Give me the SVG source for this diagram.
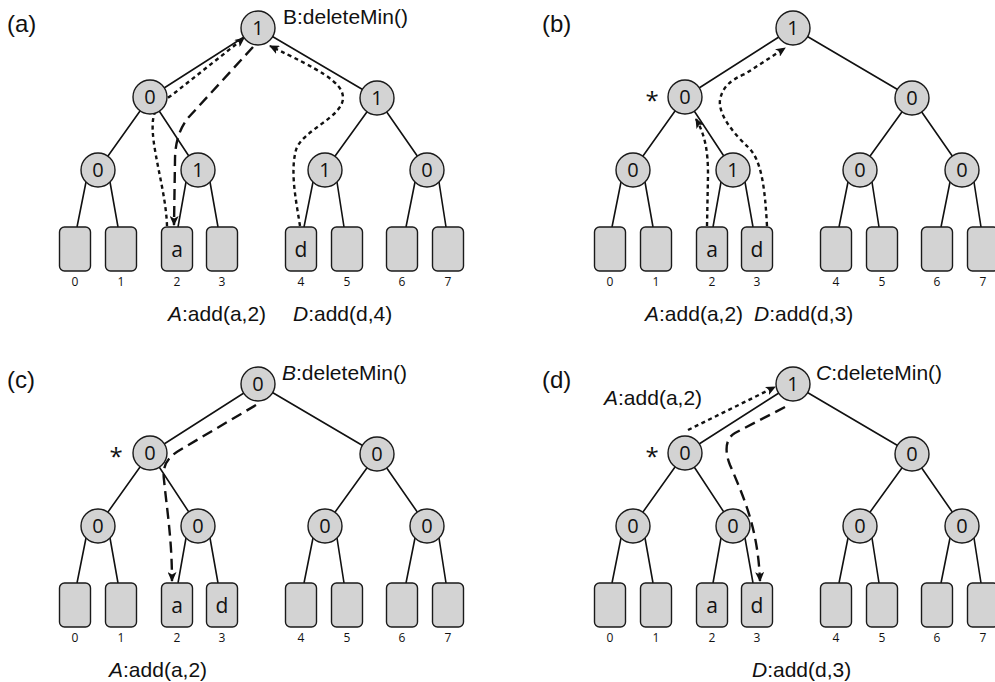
<svg xmlns="http://www.w3.org/2000/svg" width="995" height="682" viewBox="0 0 995 682">
<style>
.edge{stroke:#111;stroke-width:1.6;fill:none}
.c{fill:#d3d3d3;stroke:#1a1a1a;stroke-width:1.4}
.lf{fill:#d3d3d3;stroke:#1a1a1a;stroke-width:1.4}
.nt{font-family:"Open Sans","DejaVu Sans",sans-serif;font-size:20px;text-anchor:middle;fill:#111}
.lt{font-family:"Open Sans","DejaVu Sans",sans-serif;font-size:21px;text-anchor:middle;fill:#111}
.ix{font-family:"Open Sans","DejaVu Sans",sans-serif;font-size:12px;text-anchor:middle;fill:#111}
.lab{font-family:"Liberation Sans",Arial,sans-serif;font-size:21px;fill:#111}
.pl{font-family:"Liberation Sans",Arial,sans-serif;font-size:24px;fill:#111}
.ast{font-family:"Open Sans","DejaVu Sans",sans-serif;font-size:24px;text-anchor:middle;fill:#111}
.dot{stroke:#111;stroke-width:2.4;fill:none;stroke-dasharray:4 3.5;marker-end:url(#arr)}
.dash{stroke:#111;stroke-width:2.4;fill:none;stroke-dasharray:11 6;marker-end:url(#arr)}
</style>
<defs>
<marker id="arr" markerWidth="11" markerHeight="9" refX="9" refY="4.5" orient="auto" markerUnits="userSpaceOnUse">
<path d="M0,0 L10,4.5 L0,9 L2.5,4.5 z" fill="#111"/>
</marker>
</defs>

<g id="connectors">
<g id="conn-a">
<path class="edge" d="M258 28 L150 97 M258 28 L377 98 M150 97 L98 170 M150 97 L198 170 M377 98 L325 170 M377 98 L427 170 M86 182 L77 227 M110 182 L118 227 M186 182 L178 227 M210 182 L218 227 M313 182 L304 227 M337 182 L344 227 M415 182 L406 227 M439 182 L446 227"/>
<path class="dot" d="M167 226 C166 190 150 145 153 120 C155 106 163 101 172 95 L244 38"/>
<path class="dash" d="M253 47 L188 118 C180 128 175 142 175 160 L174 225"/>
<path class="dot" d="M300 226 C296 200 290 172 296 150 C302 130 344 117 343 97 C342 82 320 70 270 46"/>
</g>
<g id="conn-b" transform="translate(535,0)">
<path class="edge" d="M258 28 L150 97 M258 28 L377 98 M150 97 L98 170 M150 97 L198 170 M377 98 L325 170 M377 98 L427 170 M86 182 L77 227 M110 182 L118 227 M186 182 L178 227 M210 182 L218 227 M313 182 L304 227 M337 182 L344 227 M415 182 L406 227 M439 182 L446 227"/>
<path class="dot" d="M172 226 L173 175 C173 150 170 135 161 119"/>
<path class="dot" d="M232 226 C230 190 227 160 213 147 C200 135 183 115 185 100 C187 88 195 80 210 74 L250 48"/>
</g>
<g id="conn-c" transform="translate(0,356)">
<path class="edge" d="M258 28 L150 97 M258 28 L377 98 M150 97 L98 170 M150 97 L198 170 M377 98 L325 170 M377 98 L427 170 M86 182 L77 227 M110 182 L118 227 M186 182 L178 227 M210 182 L218 227 M313 182 L304 227 M337 182 L344 227 M415 182 L406 227 M439 182 L446 227"/>
<path class="dash" d="M256 49 L180 94 C168 101 162 109 164 124 C167 154 172 184 172 225"/>
</g>
<g id="conn-d" transform="translate(535,356)">
<path class="edge" d="M258 28 L150 97 M258 28 L377 98 M150 97 L98 170 M150 97 L198 170 M377 98 L325 170 M377 98 L427 170 M86 182 L77 227 M110 182 L118 227 M186 182 L178 227 M210 182 L218 227 M313 182 L304 227 M337 182 L344 227 M415 182 L406 227 M439 182 L446 227"/>
<path class="dot" d="M153 74 L240 31"/>
<path class="dash" d="M250 51 L200 77 C191 82 189 94 195 109 C210 144 223 174 225 225"/>
</g>
</g>

<!-- Panel (a) -->
<g id="panel-a">
<text class="pl" x="7" y="32">(a)</text>
<g id="a-n1"><circle class="c" cx="258" cy="28" r="17"/><text class="nt" x="258" y="35">1</text></g>
<g id="a-n2"><circle class="c" cx="150" cy="97" r="17"/><text class="nt" x="150" y="104">0</text></g>
<g id="a-n3"><circle class="c" cx="377" cy="98" r="17"/><text class="nt" x="377" y="105">1</text></g>
<g id="a-n4"><circle class="c" cx="98" cy="170" r="17"/><text class="nt" x="98" y="177">0</text></g>
<g id="a-n5"><circle class="c" cx="198" cy="170" r="17"/><text class="nt" x="198" y="177">1</text></g>
<g id="a-n6"><circle class="c" cx="325" cy="170" r="17"/><text class="nt" x="325" y="177">1</text></g>
<g id="a-n7"><circle class="c" cx="427" cy="170" r="17"/><text class="nt" x="427" y="177">0</text></g>
<g id="a-l0"><rect class="lf" x="59.5" y="227" width="31" height="44" rx="5"/><text class="ix" x="75" y="286">0</text></g>
<g id="a-l1"><rect class="lf" x="105.5" y="227" width="31" height="44" rx="5"/><text class="ix" x="121" y="286">1</text></g>
<g id="a-l2"><rect class="lf" x="161.5" y="227" width="31" height="44" rx="5"/><text class="lt" x="177" y="257">a</text><text class="ix" x="177" y="286">2</text></g>
<g id="a-l3"><rect class="lf" x="206.5" y="227" width="31" height="44" rx="5"/><text class="ix" x="222" y="286">3</text></g>
<g id="a-l4"><rect class="lf" x="285.5" y="227" width="31" height="44" rx="5"/><text class="lt" x="301" y="257">d</text><text class="ix" x="301" y="286">4</text></g>
<g id="a-l5"><rect class="lf" x="331.5" y="227" width="31" height="44" rx="5"/><text class="ix" x="347" y="286">5</text></g>
<g id="a-l6"><rect class="lf" x="386.5" y="227" width="31" height="44" rx="5"/><text class="ix" x="402" y="286">6</text></g>
<g id="a-l7"><rect class="lf" x="432.5" y="227" width="31" height="44" rx="5"/><text class="ix" x="448" y="286">7</text></g>
<text class="lab" x="283" y="24">B:deleteMin()</text>
<text class="lab" x="168" y="321"><tspan font-style="italic">A</tspan>:add(a,2)</text>
<text class="lab" x="293" y="321"><tspan font-style="italic">D</tspan>:add(d,4)</text>
</g>

<!-- Panel (b) -->
<g id="panel-b" transform="translate(535,0)">
<text class="pl" x="7" y="32">(b)</text>
<g id="b-n1"><circle class="c" cx="258" cy="28" r="17"/><text class="nt" x="258" y="35">1</text></g>
<g id="b-n2"><circle class="c" cx="150" cy="97" r="17"/><text class="nt" x="150" y="104">0</text></g>
<g id="b-n3"><circle class="c" cx="377" cy="98" r="17"/><text class="nt" x="377" y="105">0</text></g>
<g id="b-n4"><circle class="c" cx="98" cy="170" r="17"/><text class="nt" x="98" y="177">0</text></g>
<g id="b-n5"><circle class="c" cx="198" cy="170" r="17"/><text class="nt" x="198" y="177">1</text></g>
<g id="b-n6"><circle class="c" cx="325" cy="170" r="17"/><text class="nt" x="325" y="177">0</text></g>
<g id="b-n7"><circle class="c" cx="427" cy="170" r="17"/><text class="nt" x="427" y="177">0</text></g>
<g id="b-l0"><rect class="lf" x="59.5" y="227" width="31" height="44" rx="5"/><text class="ix" x="75" y="286">0</text></g>
<g id="b-l1"><rect class="lf" x="105.5" y="227" width="31" height="44" rx="5"/><text class="ix" x="121" y="286">1</text></g>
<g id="b-l2"><rect class="lf" x="161.5" y="227" width="31" height="44" rx="5"/><text class="lt" x="177" y="257">a</text><text class="ix" x="177" y="286">2</text></g>
<g id="b-l3"><rect class="lf" x="206.5" y="227" width="31" height="44" rx="5"/><text class="lt" x="222" y="257">d</text><text class="ix" x="222" y="286">3</text></g>
<g id="b-l4"><rect class="lf" x="285.5" y="227" width="31" height="44" rx="5"/><text class="ix" x="301" y="286">4</text></g>
<g id="b-l5"><rect class="lf" x="331.5" y="227" width="31" height="44" rx="5"/><text class="ix" x="347" y="286">5</text></g>
<g id="b-l6"><rect class="lf" x="386.5" y="227" width="31" height="44" rx="5"/><text class="ix" x="402" y="286">6</text></g>
<g id="b-l7"><rect class="lf" x="432.5" y="227" width="31" height="44" rx="5"/><text class="ix" x="448" y="286">7</text></g>
<text class="ast" x="117" y="109">*</text>
<text class="lab" x="110" y="321"><tspan font-style="italic">A</tspan>:add(a,2)</text>
<text class="lab" x="219" y="321"><tspan font-style="italic">D</tspan>:add(d,3)</text>
</g>

<!-- Panel (c) -->
<g id="panel-c" transform="translate(0,356)">
<text class="pl" x="7" y="32">(c)</text>
<g id="c-n1"><circle class="c" cx="258" cy="28" r="17"/><text class="nt" x="258" y="35">0</text></g>
<g id="c-n2"><circle class="c" cx="150" cy="97" r="17"/><text class="nt" x="150" y="104">0</text></g>
<g id="c-n3"><circle class="c" cx="377" cy="98" r="17"/><text class="nt" x="377" y="105">0</text></g>
<g id="c-n4"><circle class="c" cx="98" cy="170" r="17"/><text class="nt" x="98" y="177">0</text></g>
<g id="c-n5"><circle class="c" cx="198" cy="170" r="17"/><text class="nt" x="198" y="177">0</text></g>
<g id="c-n6"><circle class="c" cx="325" cy="170" r="17"/><text class="nt" x="325" y="177">0</text></g>
<g id="c-n7"><circle class="c" cx="427" cy="170" r="17"/><text class="nt" x="427" y="177">0</text></g>
<g id="c-l0"><rect class="lf" x="59.5" y="227" width="31" height="44" rx="5"/><text class="ix" x="75" y="286">0</text></g>
<g id="c-l1"><rect class="lf" x="105.5" y="227" width="31" height="44" rx="5"/><text class="ix" x="121" y="286">1</text></g>
<g id="c-l2"><rect class="lf" x="161.5" y="227" width="31" height="44" rx="5"/><text class="lt" x="177" y="257">a</text><text class="ix" x="177" y="286">2</text></g>
<g id="c-l3"><rect class="lf" x="206.5" y="227" width="31" height="44" rx="5"/><text class="lt" x="222" y="257">d</text><text class="ix" x="222" y="286">3</text></g>
<g id="c-l4"><rect class="lf" x="285.5" y="227" width="31" height="44" rx="5"/><text class="ix" x="301" y="286">4</text></g>
<g id="c-l5"><rect class="lf" x="331.5" y="227" width="31" height="44" rx="5"/><text class="ix" x="347" y="286">5</text></g>
<g id="c-l6"><rect class="lf" x="386.5" y="227" width="31" height="44" rx="5"/><text class="ix" x="402" y="286">6</text></g>
<g id="c-l7"><rect class="lf" x="432.5" y="227" width="31" height="44" rx="5"/><text class="ix" x="448" y="286">7</text></g>
<text class="ast" x="116" y="109">*</text>
<text class="lab" x="282" y="24"><tspan font-style="italic">B</tspan>:deleteMin()</text>
<text class="lab" x="109" y="321"><tspan font-style="italic">A</tspan>:add(a,2)</text>
</g>

<!-- Panel (d) -->
<g id="panel-d" transform="translate(535,356)">
<text class="pl" x="7" y="32">(d)</text>
<g id="d-n1"><circle class="c" cx="258" cy="28" r="17"/><text class="nt" x="258" y="35">1</text></g>
<g id="d-n2"><circle class="c" cx="150" cy="97" r="17"/><text class="nt" x="150" y="104">0</text></g>
<g id="d-n3"><circle class="c" cx="377" cy="98" r="17"/><text class="nt" x="377" y="105">0</text></g>
<g id="d-n4"><circle class="c" cx="98" cy="170" r="17"/><text class="nt" x="98" y="177">0</text></g>
<g id="d-n5"><circle class="c" cx="198" cy="170" r="17"/><text class="nt" x="198" y="177">0</text></g>
<g id="d-n6"><circle class="c" cx="325" cy="170" r="17"/><text class="nt" x="325" y="177">0</text></g>
<g id="d-n7"><circle class="c" cx="427" cy="170" r="17"/><text class="nt" x="427" y="177">0</text></g>
<g id="d-l0"><rect class="lf" x="59.5" y="227" width="31" height="44" rx="5"/><text class="ix" x="75" y="286">0</text></g>
<g id="d-l1"><rect class="lf" x="105.5" y="227" width="31" height="44" rx="5"/><text class="ix" x="121" y="286">1</text></g>
<g id="d-l2"><rect class="lf" x="161.5" y="227" width="31" height="44" rx="5"/><text class="lt" x="177" y="257">a</text><text class="ix" x="177" y="286">2</text></g>
<g id="d-l3"><rect class="lf" x="206.5" y="227" width="31" height="44" rx="5"/><text class="lt" x="222" y="257">d</text><text class="ix" x="222" y="286">3</text></g>
<g id="d-l4"><rect class="lf" x="285.5" y="227" width="31" height="44" rx="5"/><text class="ix" x="301" y="286">4</text></g>
<g id="d-l5"><rect class="lf" x="331.5" y="227" width="31" height="44" rx="5"/><text class="ix" x="347" y="286">5</text></g>
<g id="d-l6"><rect class="lf" x="386.5" y="227" width="31" height="44" rx="5"/><text class="ix" x="402" y="286">6</text></g>
<g id="d-l7"><rect class="lf" x="432.5" y="227" width="31" height="44" rx="5"/><text class="ix" x="448" y="286">7</text></g>
<text class="ast" x="117" y="109">*</text>
<text class="lab" x="281" y="24"><tspan font-style="italic">C</tspan>:deleteMin()</text>
<text class="lab" x="69" y="49"><tspan font-style="italic">A</tspan>:add(a,2)</text>
<text class="lab" x="217" y="321"><tspan font-style="italic">D</tspan>:add(d,3)</text>
</g>
</svg>
